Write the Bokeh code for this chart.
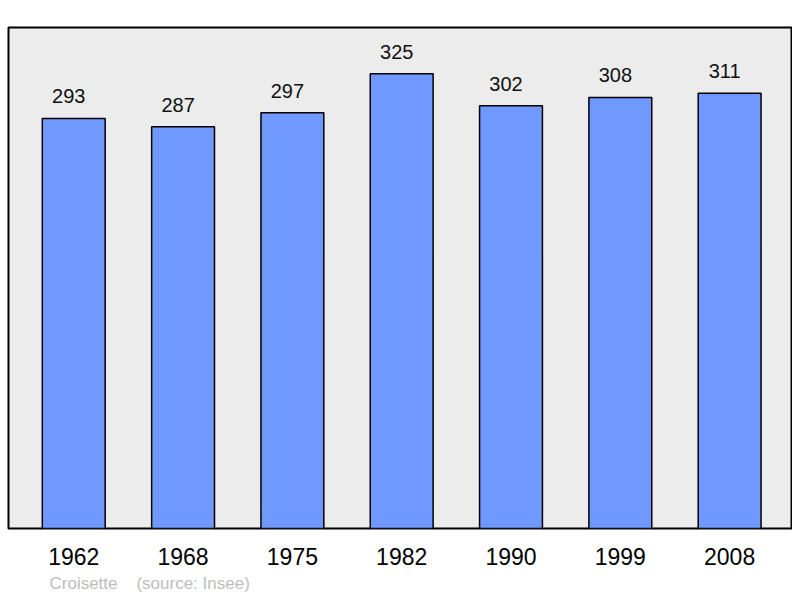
from bokeh.plotting import figure
from bokeh.models import ColumnDataSource, FixedTicker, Range1d, Title
from bokeh.core.properties import value
from bokeh.embed import file_html
from bokeh.resources import INLINE

years = ["1962", "1968", "1975", "1982", "1990", "1999", "2008"]
population = [293, 287, 297, 325, 302, 308, 311]
source_note = "Croisette\u00a0\u00a0\u00a0\u00a0(source: Insee)"

xs = list(range(len(years)))
src = ColumnDataSource(dict(x=xs, top=population, label=[str(v) for v in population]))

p = figure(frame_width=783, frame_height=501, output_backend="svg", toolbar_location=None,
           x_range=Range1d(-0.597, 6.566), y_range=Range1d(0, 358),
           min_border_left=8, min_border_right=1, min_border_top=27, min_border_bottom=0)

p.background_fill_color = "#ececec"
p.border_fill_color = "white"
p.outline_line_color = "#000000"
p.outline_line_width = 2
p.grid.visible = False
p.yaxis.visible = False

p.vbar(x="x", top="top", bottom=0, width=0.575, source=src,
       fill_color="#7099ff", line_color="#000000", line_width=1.5)

p.text(x="x", y="top", text="label", source=src, x_offset=-5, y_offset=-22,
       text_align="center", text_baseline="alphabetic",
       text_font=value("Liberation Sans"), text_font_size="20px", text_color="#111111")

ax = p.xaxis[0]
ax.ticker = FixedTicker(ticks=xs)
ax.major_label_overrides = {i: y for i, y in enumerate(years)}
ax.axis_line_color = None
ax.major_tick_line_color = None
ax.minor_tick_line_color = None
ax.major_tick_out = 0
ax.major_tick_in = 0
ax.major_label_standoff = 19
ax.major_label_text_font = "Liberation Sans"
ax.major_label_text_font_size = "23px"
ax.major_label_text_color = "#000000"

t = Title(text=source_note, align="left", offset=41, text_font="Liberation Sans",
          text_font_size="17px", text_font_style="normal", text_color="#bdbdbd", standoff=8)
p.add_layout(t, "below")

open("out.html", "w").write(file_html(p, INLINE))
